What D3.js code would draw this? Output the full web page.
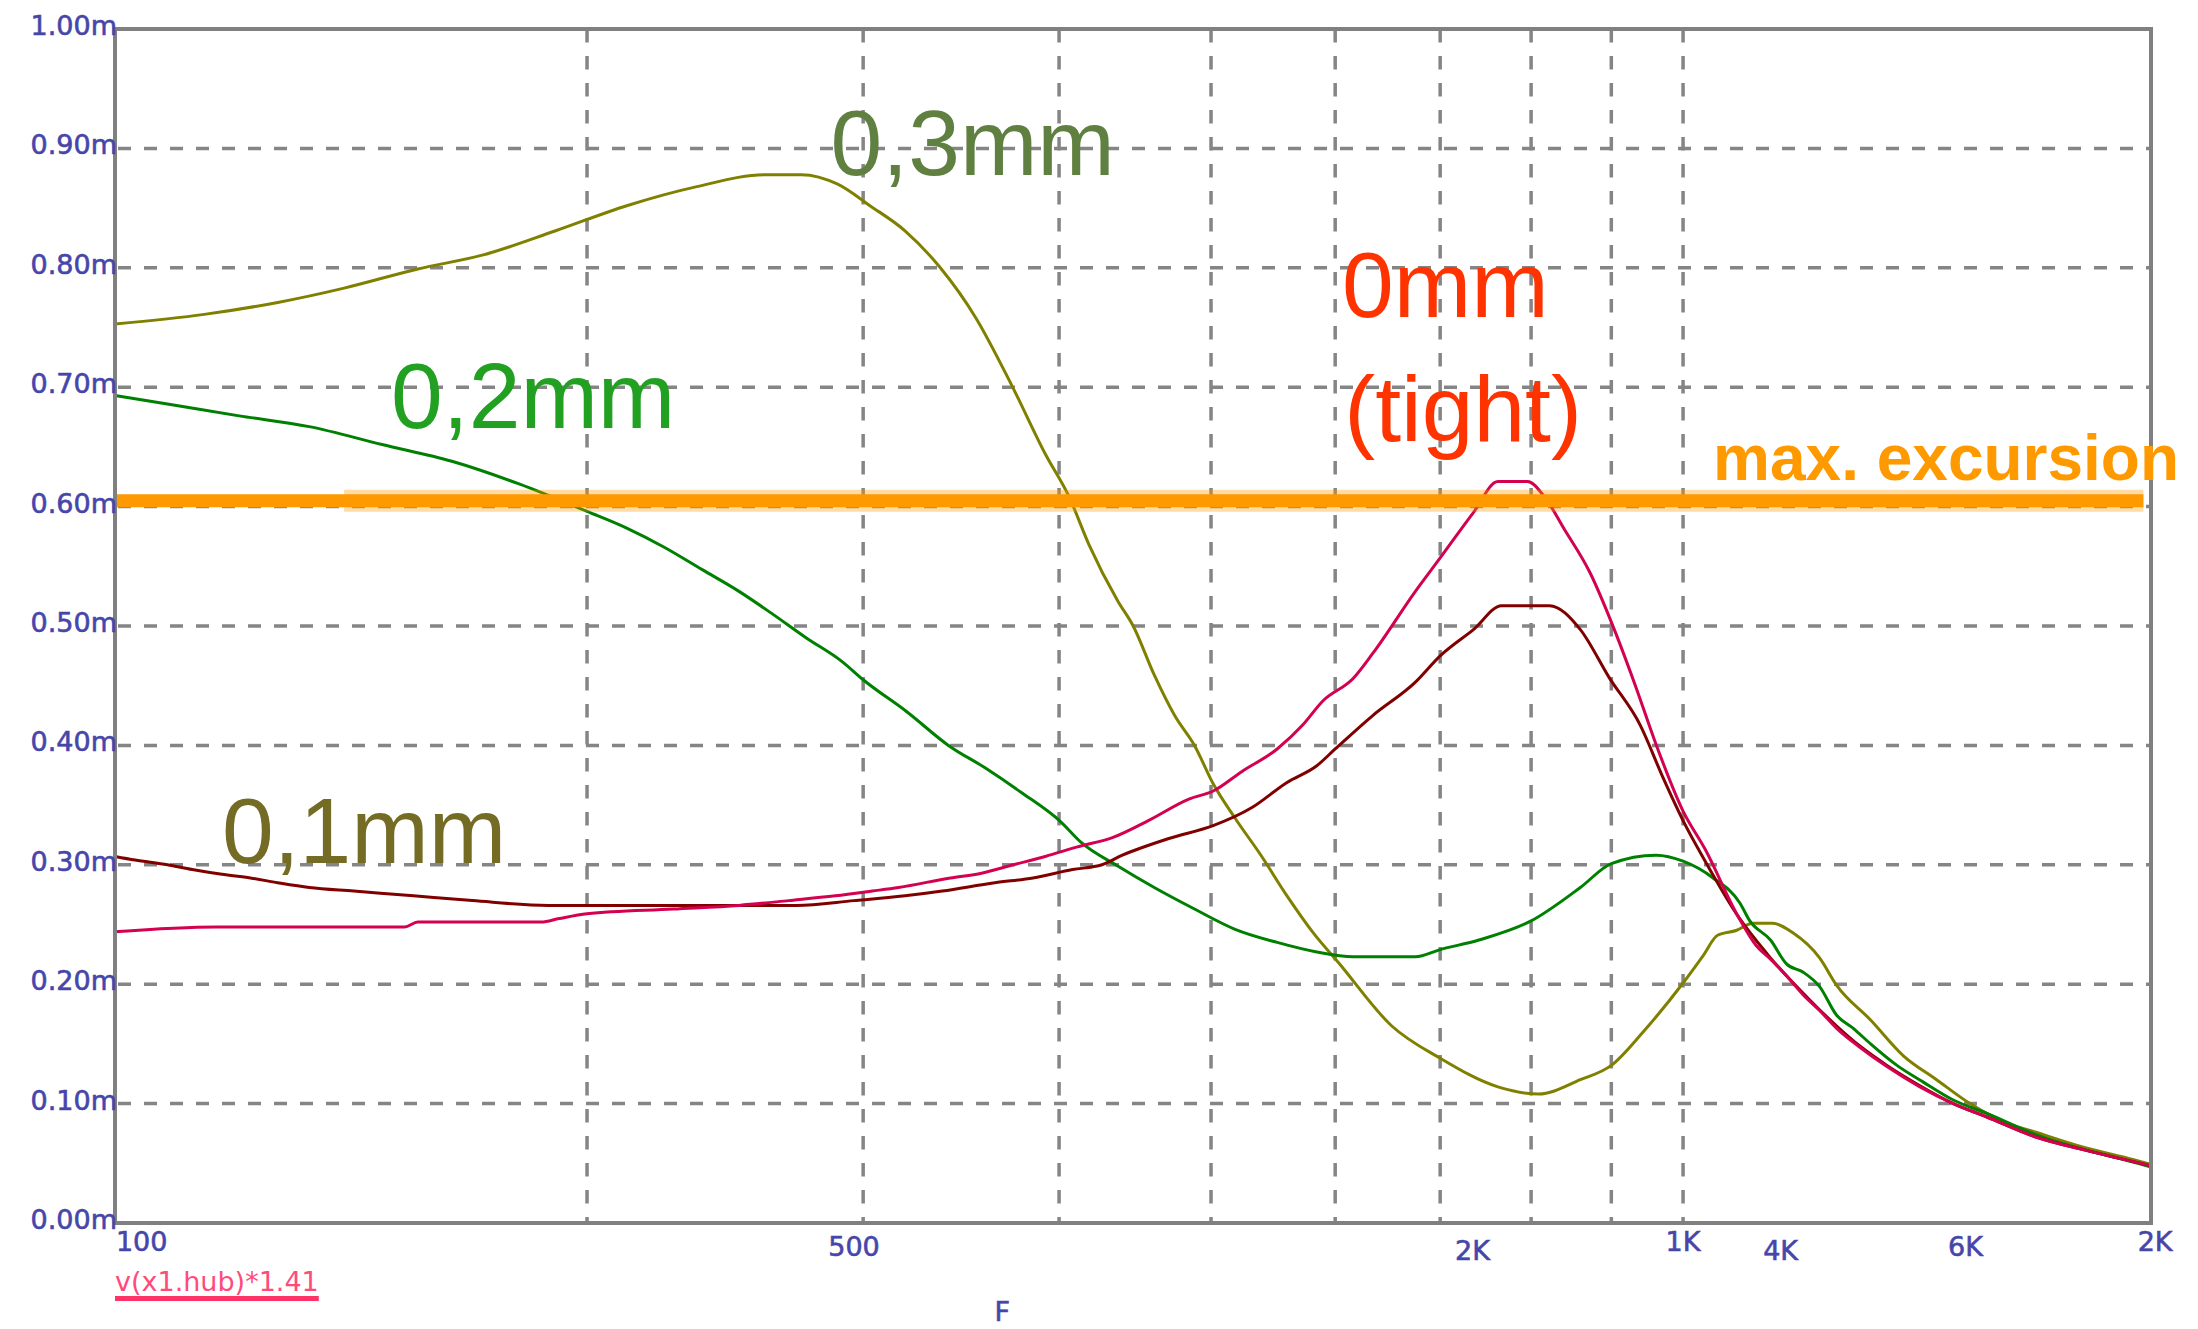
<!DOCTYPE html>
<html>
<head>
<meta charset="utf-8">
<script src="https://cdnjs.cloudflare.com/ajax/libs/d3/7.8.5/d3.min.js"></script>
<style>
	body { margin: 0; background: #fff; }
	svg { display: block; }
</style>
</head>
<body>
<div id="chart"></div>
<script>
// excursion vs frequency, one pair of arrays per gap
var freq03 = [100, 114, 127, 140, 156, 172, 191, 212, 235, 260, 274, 289, 303, 319, 336, 354, 373, 392, 406, 418,
	436, 446, 460, 474, 488, 502, 518, 538, 559, 581, 603, 652, 700, 762, 809, 860, 900, 943, 1000, 1030,
	1052, 1081, 1108, 1141, 1175, 1222, 1253, 1317, 1382, 1451, 1524, 1600, 1679, 1805, 1938, 1988];
var amp03 = [.753, .761, .771, .783, .799, .811, .831, .852, .868, .878, .878, .870, .852, .831, .800, .758, .702, .644, .608, .568,
	.521, .500, .459, .425, .400, .367, .339, .308, .274, .243, .218, .165, .138, .114, .108, .120, .132, .160, .201, .224,
	.241, .245, .251, .251, .243, .222, .199, .170, .140, .120, .100, .085, .076, .063, .053, .049];

var freq02 = [100, 108, 120, 133, 148, 164, 181, 200, 212, 224, 237, 250, 262, 276, 291, 300, 320, 340, 359, 378,
	401, 413, 436, 460, 488, 518, 551, 584, 616, 675, 700, 741, 800, 860, 900, 961, 1000, 1045, 1087, 1103,
	1137, 1164, 1193, 1222, 1253, 1284, 1317, 1369, 1423, 1487, 1561, 1679, 1950, 1988];
var amp02 = [.693, .686, .676, .667, .652, .638, .619, .596, .582, .566, .547, .529, .511, .490, .470, .455, .428, .400, .381, .361,
	.336, .319, .299, .281, .263, .246, .235, .227, .223, .223, .229, .237, .253, .281, .301, .308, .303, .289, .268, .253,
	.237, .217, .210, .198, .174, .163, .150, .132, .118, .103, .092, .074, .050, .047];

var freq01 = [100, 103, 108, 112, 117, 122, 127, 133, 142, 155, 169, 189, 217, 239, 272, 296, 319, 337, 364, 385,
	408, 426, 439, 470, 502, 531, 559, 584, 600, 634, 675, 700, 735, 766, 822, 860, 897, 939, 971, 1000,
	1033, 1084, 1132, 1204, 1253, 1297, 1349, 1416, 1487, 1561, 1679, 1805, 1988];
var amp01 = [.307, .304, .300, .296, .292, .289, .285, .281, .278, .274, .270, .266, .266, .266, .266, .270, .274, .278, .285, .289,
	.296, .300, .308, .322, .333, .348, .369, .383, .397, .425, .453, .475, .497, .517, .517, .497, .457, .417, .373, .337,
	.303, .257, .225, .187, .165, .148, .132, .115, .100, .089, .072, .061, .048];

var freq00 = [100, 116, 153, 156, 187, 192, 200, 227, 250, 269, 288, 304, 316, 341, 357, 374, 392, 411, 433, 456,
	484, 502, 523, 551, 572, 589, 616, 634, 675, 700, 735, 762, 796, 815, 840, 872, 904, 933, 961, 1000,
	1033, 1084, 1114, 1137, 1164, 1193, 1222, 1253, 1297, 1349, 1416, 1487, 1561, 1679, 1805, 1988];
var amp00 = [.244, .248, .248, .252, .252, .255, .259, .263, .266, .270, .274, .278, .281, .289, .293, .300, .307, .315, .323, .337,
	.355, .362, .378, .397, .417, .437, .456, .477, .529, .557, .595, .621, .621, .609, .581, .545, .497, .449, .401, .345,
	.313, .257, .232, .221, .207, .191, .178, .163, .147, .131, .114, .100, .089, .072, .061, .048];

var seriesNames = ['0,3mm', '0,2mm', '0,1mm', '0mm'];

var yTicks = [0, 0.1, 0.2, 0.3, 0.4, 0.5, 0.6, 0.7, 0.8, 0.9, 1.0];
var yTickLabels = ['0.00m', '0.10m', '0.20m', '0.30m', '0.40m', '0.50m', '0.60m', '0.70m', '0.80m', '0.90m', '1.00m'];

var xGrid = [200, 300, 400, 500, 600, 700, 800, 900, 1000];
var xTickFreqs = [104, 296, 734, 1000, 1154, 1514, 2000];
var xTickLabels = ['100', '500', '2K', '1K', '4K', '6K', '2K'];

var maxExcursion = 0.605;

var width = 2198,
	height = 1329,
	plot = {left: 115, right: 2151, top: 29, bottom: 1223};

var svg = d3.select('#chart')
	.append('svg')
	.attr('width', width)
	.attr('height', height);

svg.append('rect')
	.attr('width', width)
	.attr('height', height)
	.attr('fill', '#fff');

var x = d3.scaleLog()
	.domain([100, 1988])
	.range([plot.left, plot.right]);

var y = d3.scaleLinear()
	.domain([0, 1])
	.range([plot.bottom, plot.top]);

// dashed grid
var grid = svg.append('g')
	.attr('stroke', '#858585')
	.attr('stroke-width', 3.5);

grid.selectAll('.hgrid')
	.data(yTicks.slice(1, -1))
	.enter()
	.append('line')
	.attr('class', 'hgrid')
	.attr('x1', plot.left + 3)
	.attr('x2', plot.right)
	.attr('y1', function(d) { return y(d); })
	.attr('y2', function(d) { return y(d); })
	.attr('stroke-dasharray', '13,13');

grid.selectAll('.vgrid')
	.data(xGrid)
	.enter()
	.append('line')
	.attr('class', 'vgrid')
	.attr('x1', function(d) { return x(d); })
	.attr('x2', function(d) { return x(d); })
	.attr('y1', plot.top)
	.attr('y2', plot.bottom)
	.attr('stroke-dasharray', '13.5,13.5');

// curves
var series = [
	{name: seriesNames[0], f: freq03, a: amp03, color: '#808000'},
	{name: seriesNames[1], f: freq02, a: amp02, color: '#008000'},
	{name: seriesNames[2], f: freq01, a: amp01, color: '#800000'},
	{name: seriesNames[3], f: freq00, a: amp00, color: '#d40050'}
];

var line = d3.line()
	.curve(d3.curveMonotoneX)
	.x(function(d) { return x(d[0]); })
	.y(function(d) { return y(d[1]); });

svg.append('g')
	.selectAll('path')
	.data(series)
	.enter()
	.append('path')
	.attr('fill', 'none')
	.attr('stroke', function(d) { return d.color; })
	.attr('stroke-width', 3)
	.attr('stroke-linejoin', 'round')
	.attr('d', function(d) {
		return line(d.f.map(function(f, i) { return [f, d.a[i]]; }));
	});

// max. excursion band
svg.append('line')
	.attr('x1', x(140))
	.attr('x2', x(1966))
	.attr('y1', y(maxExcursion))
	.attr('y2', y(maxExcursion))
	.attr('stroke', '#ff9900')
	.attr('stroke-opacity', 0.35)
	.attr('stroke-width', 22);

svg.append('line')
	.attr('x1', x(100))
	.attr('x2', x(1966))
	.attr('y1', y(maxExcursion))
	.attr('y2', y(maxExcursion))
	.attr('stroke', '#ff9900')
	.attr('stroke-width', 13);

// frame
svg.append('rect')
	.attr('x', plot.left)
	.attr('y', plot.top)
	.attr('width', plot.right - plot.left)
	.attr('height', plot.bottom - plot.top)
	.attr('fill', 'none')
	.attr('stroke', '#808080')
	.attr('stroke-width', 4);

// tick labels
var tickFont = "'DejaVu Sans', sans-serif",
	tickColor = '#4646aa';

function tickText(sel) {
	sel.attr('font-family', tickFont)
		.attr('font-size', 27)
		.attr('fill', tickColor)
		.attr('stroke', tickColor)
		.attr('stroke-width', 0.6);
}

svg.append('g')
	.selectAll('text')
	.data(yTicks)
	.enter()
	.append('text')
	.attr('x', plot.left + 2)
	.attr('y', function(d) { return y(d) + 6; })
	.attr('text-anchor', 'end')
	.call(tickText)
	.text(function(d, i) { return yTickLabels[i]; });

var xTickDy = [28, 33, 37, 28, 37, 33, 28];

svg.append('g')
	.selectAll('text')
	.data(xTickFreqs)
	.enter()
	.append('text')
	.attr('x', function(d) { return x(d); })
	.attr('y', function(d, i) { return plot.bottom + xTickDy[i]; })
	.attr('text-anchor', 'middle')
	.call(tickText)
	.text(function(d, i) { return xTickLabels[i]; });

svg.append('text')
	.attr('x', x(368))
	.attr('y', 1321)
	.attr('text-anchor', 'middle')
	.call(tickText)
	.text('F');

var trace = svg.append('text')
	.attr('x', x(100))
	.attr('y', 1291)
	.attr('font-family', tickFont)
	.attr('font-size', 27)
	.attr('fill', '#ff4a7a')
	.text('v(x1.hub)*1.41');

var tb = trace.node().getBBox();
svg.append('rect')
	.attr('x', tb.x)
	.attr('y', 1296)
	.attr('width', tb.width)
	.attr('height', 5)
	.attr('fill', '#ff3366');

// curve labels
var notes = [
	{text: '0,3mm', f: 286, v: 0.878, color: '#5f8040'},
	{text: '0,2mm', f: 150, v: 0.666, color: '#22a022'},
	{text: '0,1mm', f: 117, v: 0.3015, color: '#746b24'},
	{text: '0mm', f: 606, v: 0.759, color: '#ff3300'},
	{text: '(tight)', f: 608, v: 0.655, color: '#ff3300'}
];

svg.append('g')
	.selectAll('text')
	.data(notes)
	.enter()
	.append('text')
	.attr('x', function(d) { return x(d.f); })
	.attr('y', function(d) { return y(d.v); })
	.attr('font-family', "'Liberation Sans', Arial, sans-serif")
	.attr('font-size', 93)
	.attr('fill', function(d) { return d.color; })
	.text(function(d) { return d.text; });

svg.append('text')
	.attr('x', x(1045))
	.attr('y', y(0.6223))
	.attr('font-family', "'Liberation Sans', Arial, sans-serif")
	.attr('font-weight', 'bold')
	.attr('font-size', 64)
	.attr('fill', '#ff9900')
	.text('max. excursion');
</script>
</body>
</html>
